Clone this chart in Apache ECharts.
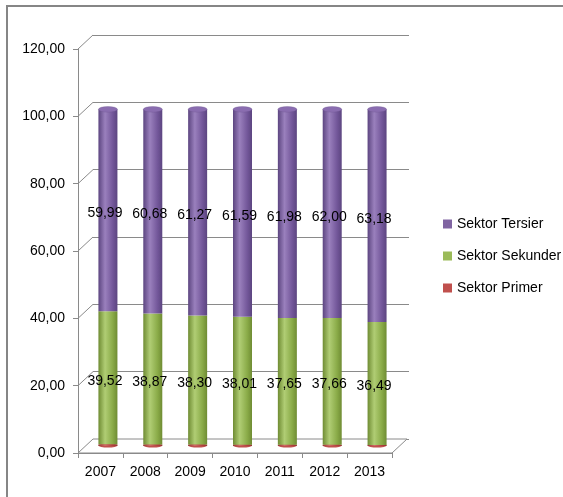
<!DOCTYPE html>
<html><head><meta charset="utf-8">
<script src="https://cdn.jsdelivr.net/npm/echarts@6/dist/echarts.min.js"></script>
<style>html,body{margin:0;padding:0;background:#fff}#c{width:563px;height:497px}</style>
</head><body><div id="c"></div>
<script>
const categories = ['2007','2008','2009','2010','2011','2012','2013'];
const primer   = [0.49, 0.45, 0.43, 0.40, 0.37, 0.34, 0.33];
const sekunder = [39.52, 38.87, 38.30, 38.01, 37.65, 37.66, 36.49];
const tersier  = [59.99, 60.68, 61.27, 61.59, 61.98, 62.00, 63.18];
const yTicks   = [0, 20, 40, 60, 80, 100, 120];
const seriesNames = ['Sektor Primer', 'Sektor Sekunder', 'Sektor Tersier'];

const FONT = 'Liberation Sans';
const front = {left: 78, top: 49, width: 314, height: 404};
const back  = {left: 93, top: 35, width: 316, height: 404};
const mid   = {left: (front.left + back.left) / 2, top: (front.top + back.top) / 2, width: 314, height: 404};
const DX = back.left - front.left, DY = back.top - front.top;
const GRAY = '#8a8a8a';
const BAR_W = 19;

function cyl(dark, light, edge) {
  return {type: 'linear', x: 0, y: 0, x2: 1, y2: 0, colorStops: [
    {offset: 0, color: edge}, {offset: 0.35, color: light}, {offset: 0.75, color: dark}, {offset: 1, color: edge}]};
}
const colPrimer = '#C0504D', colSek = '#9BBB59', colTer = '#8064A2';
const fmt = v => v.toFixed(2).replace('.', ',');
const totals = categories.map((c, i) => primer[i] + sekunder[i] + tersier[i]);

const valAxis = (gi, show) => ({
  type: 'value', gridIndex: gi, min: 0, max: 120, interval: 20,
  axisLine: {show: show, lineStyle: {color: GRAY}},
  axisTick: {show: show, length: 5, lineStyle: {color: GRAY}},
  axisLabel: {show: show, margin: 13, formatter: v => fmt(v), fontFamily: FONT, fontSize: 14, color: '#000'},
  splitLine: {show: gi === 1, lineStyle: {color: GRAY, width: 1}}
});
const catAxis = (gi, show) => ({
  type: 'category', gridIndex: gi, data: categories, boundaryGap: true,
  axisLine: {show: show, lineStyle: {color: GRAY}},
  axisTick: {show: show, length: 5, lineStyle: {color: GRAY}},
  axisLabel: {show: show, margin: 12, fontFamily: FONT, fontSize: 14, color: '#000'},
  splitLine: {show: false}
});

const labelCfg = {show: true, position: 'inside', offset: [-3, 3], formatter: p => fmt(p.value),
  fontFamily: FONT, fontSize: 14, color: '#000'};

const option = {
  animation: false,
  backgroundColor: '#fff',
  graphic: [{type: 'rect', shape: {x: 7, y: 6, width: 700, height: 700},
    style: {fill: 'none', stroke: '#868686', lineWidth: 2}, silent: true, z: 100}],
  grid: [
    Object.assign({containLabel: false}, front),
    Object.assign({containLabel: false}, back),
    Object.assign({containLabel: false}, mid)
  ],
  xAxis: [catAxis(0, true), catAxis(1, false), catAxis(2, false)],
  yAxis: [valAxis(0, true), valAxis(1, false), valAxis(2, false)],
  legend: {
    orient: 'vertical', left: 438, top: 211, itemGap: 16, itemWidth: 9, itemHeight: 9, icon: 'rect',
    textStyle: {fontFamily: FONT, fontSize: 14, color: '#000', lineHeight: 16},
    data: [
      {name: 'Sektor Tersier', itemStyle: {color: colTer}},
      {name: 'Sektor Sekunder', itemStyle: {color: colSek}},
      {name: 'Sektor Primer', itemStyle: {color: colPrimer}}
    ]
  },
  series: [
    {
      type: 'custom', xAxisIndex: 0, yAxisIndex: 0, silent: true, z: 1,
      data: yTicks.map(v => [0, v]),
      renderItem: function (params, api) {
        const cs = params.coordSys;
        const y = api.coord([0, api.value(1)])[1];
        const x0 = cs.x, x1 = cs.x + cs.width;
        if (api.value(1) === 0) {
          return {type: 'polygon', shape: {points: [[x0, y], [x1, y], [x1 + DX, y + DY], [x0 + DX, y + DY]]},
            style: {fill: '#fff', stroke: GRAY, lineWidth: 1}};
        }
        return {type: 'line', shape: {x1: x0, y1: y, x2: x0 + DX, y2: y + DY},
          style: {stroke: GRAY, lineWidth: 1}};
      }
    },
    {
      type: 'custom', xAxisIndex: 2, yAxisIndex: 2, silent: true, z: 1,
      data: categories.map((c, i) => [i, 0]),
      renderItem: function (params, api) {
        const p = api.coord([api.value(0), 0]);
        return {type: 'circle', x: p[0], y: p[1] - 0.5, scaleY: 0.22, shape: {cx: 0, cy: 0, r: BAR_W / 2},
          style: {fill: colPrimer}};
      }
    },
    {name: seriesNames[0], type: 'bar', stack: 's', xAxisIndex: 2, yAxisIndex: 2, barWidth: BAR_W, z: 2,
      itemStyle: {color: cyl('#b0403d', '#d06a67', '#943634')}, data: primer},
    {name: seriesNames[1], type: 'bar', stack: 's', xAxisIndex: 2, yAxisIndex: 2, barWidth: BAR_W, z: 2,
      itemStyle: {color: cyl('#8aab48', '#b0cd74', '#6f8c33')}, label: labelCfg, data: sekunder},
    {name: seriesNames[2], type: 'bar', stack: 's', xAxisIndex: 2, yAxisIndex: 2, barWidth: BAR_W, z: 2,
      itemStyle: {color: cyl('#73579a', '#9a80bd', '#5c4580')}, label: labelCfg, data: tersier},
    {
      type: 'custom', xAxisIndex: 2, yAxisIndex: 2, silent: true, z: 3,
      data: categories.map((c, i) => [i, totals[i]]),
      renderItem: function (params, api) {
        const p = api.coord([api.value(0), api.value(1)]);
        return {type: 'circle', x: p[0], y: p[1], scaleY: 0.3, shape: {cx: 0, cy: 0, r: BAR_W / 2},
          style: {fill: '#8a6db0', stroke: '#6e5590', lineWidth: 0.5}};
      }
    }
  ]
};
echarts.init(document.getElementById('c'), null, {renderer: 'canvas'}).setOption(option);
</script></body></html>
